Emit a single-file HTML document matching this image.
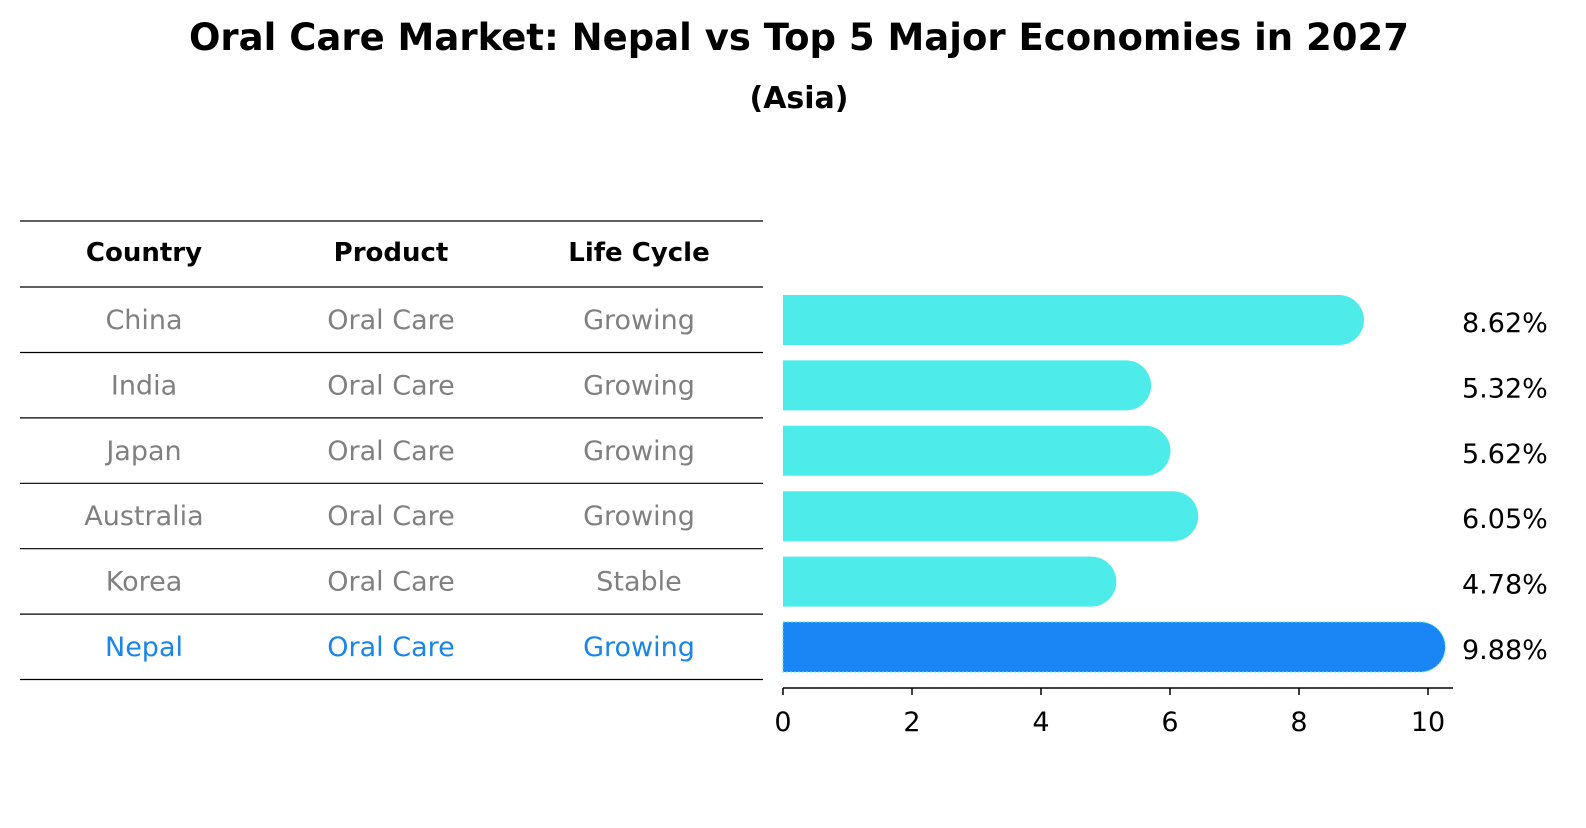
<!DOCTYPE html>
<html><head><meta charset="utf-8"><style>
body{margin:0;background:#fff;font-family:"Liberation Sans","DejaVu Sans",sans-serif;}
svg text{font-family:"DejaVu Sans","Liberation Sans",sans-serif;}
</style></head><body>
<svg id="c" width="1586" height="823" xmlns="http://www.w3.org/2000/svg">
<text x="799" y="50" text-anchor="middle" font-size="37" font-weight="bold">Oral Care Market: Nepal vs Top 5 Major Economies in 2027</text>
<text x="799" y="108" text-anchor="middle" font-size="30" font-weight="bold">(Asia)</text>
<g id="tbl"></g>
<g id="bars"></g>
</svg>
<script>
const countries=["China","India","Japan","Australia","Korea","Nepal"];
const products=["Oral Care","Oral Care","Oral Care","Oral Care","Oral Care","Oral Care"];
const lifeCycles=["Growing","Growing","Growing","Growing","Stable","Growing"];
const values=[8.62,5.32,5.62,6.05,4.78,9.88];
const ticks=[0,2,4,6,8,10];
const NS="http://www.w3.org/2000/svg";
function mk(t,a,p,txt){const e=document.createElementNS(NS,t);for(const k in a)e.setAttribute(k,a[k]);if(txt!==undefined)e.textContent=txt;p.appendChild(e);return e;}
const x=v=>783+v*64.5;
const rowY=i=>320+i*65.4;
const tbl=document.getElementById('tbl'),bars=document.getElementById('bars');
const colX=[144,391,639];
const heads=["Country","Product","Life Cycle"];
heads.forEach((h,j)=>{const t=mk('text',{x:colX[j],y:261,'text-anchor':'middle','font-size':26,'font-weight':'bold'},tbl,h);

});
[221,287].forEach(y=>{const l=mk('line',{x1:20,x2:763,y1:y,y2:y,stroke:'#000','stroke-width':1.2},tbl);

});
countries.forEach((c,i)=>{
 const cy=rowY(i),last=i===countries.length-1,col=last?'#1a85e8':'#808080';
 [c,products[i],lifeCycles[i]].forEach((s,j)=>{const t=mk('text',{x:colX[j],y:cy+9,'text-anchor':'middle','font-size':27,fill:col},tbl,s);
 
 });
 const l=mk('line',{x1:20,x2:763,y1:cy+32.5,y2:cy+32.5,stroke:'#000','stroke-width':1.2},tbl);
 
 
 const h=50,xe=x(values[i]),fill=last?'#1a85f5':'#4deceb';
 const p=mk('path',{d:`M${x(0)},${cy-h/2} L${xe},${cy-h/2} A${h/2},${h/2} 0 0 1 ${xe},${cy+h/2} L${x(0)},${cy+h/2} Z`,fill:fill},bars);
 if(last){p.setAttribute('stroke','#4deceb');p.setAttribute('stroke-width','1');p.setAttribute('stroke-dasharray','2,2');}
 
 
 const v=mk('text',{x:1462,y:cy+12,'text-anchor':'start','font-size':27},bars,values[i].toFixed(2)+'%');
 
 
});
const ax=mk('line',{x1:783,x2:1453,y1:688,y2:688,stroke:'#000','stroke-width':1.5},bars);


ticks.forEach(t=>{const tl=mk('line',{x1:x(t),x2:x(t),y1:688,y2:695,stroke:'#000','stroke-width':1.5},bars);


const tx=mk('text',{x:x(t),y:731,'text-anchor':'middle','font-size':27},bars,String(t));

});
</script>
</body></html>
